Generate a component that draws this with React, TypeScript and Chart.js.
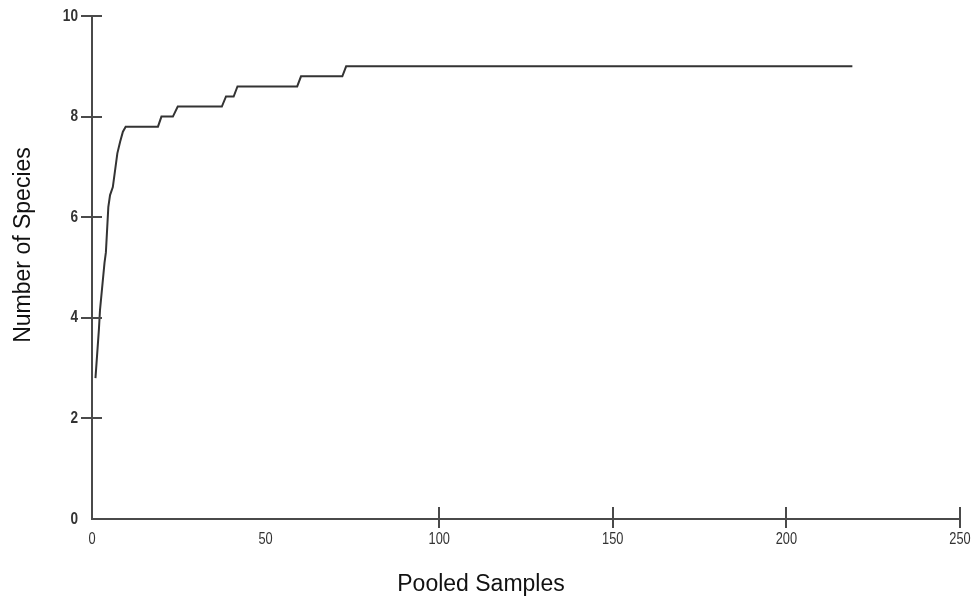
import React, { useEffect, useRef } from "react";
import { Chart, registerables } from "chart.js";

Chart.register(...registerables);

// Species accumulation curve breakpoints
const pooledSamples = [1, 2, 2.3, 3.6, 4, 4.7, 5.2, 6, 7.3, 8.1, 8.9, 9.7, 19, 20, 23.3, 24.7, 37.4, 38.6, 40.8, 41.9, 59.1, 60.2, 72.1, 73.2, 219];
const speciesCount = [2.8, 3.78, 4.15, 5.09, 5.3, 6.2, 6.44, 6.6, 7.27, 7.5, 7.7, 7.8, 7.8, 8.0, 8.0, 8.2, 8.2, 8.4, 8.4, 8.6, 8.6, 8.8, 8.8, 9.0, 9.0];

const xTickLabels = [0, 50, 100, 150, 200, 250];
const yTickLabels = [0, 2, 4, 6, 8, 10];
const xTickMarks = [100, 150, 200, 250];
const yTickMarks = [2, 4, 6, 8, 10];
const xTitle = "Pooled Samples";
const yTitle = "Number of Species";

const AXIS_COLOR = "#4a4a4a";
const LABEL_FONT = "'Liberation Sans', Arial, sans-serif";
const NARROW = 0.8;

const decorPlugin = {
  id: "decor",
  afterDraw(chart: any) {
    const { ctx, scales, chartArea } = chart;
    const xs = scales.x;
    const ys = scales.y;
    ctx.save();
    ctx.strokeStyle = AXIS_COLOR;
    ctx.lineWidth = 2;
    ctx.beginPath();
    for (const v of yTickMarks) {
      const py = Math.round(ys.getPixelForValue(v));
      ctx.moveTo(chartArea.left - 11, py);
      ctx.lineTo(chartArea.left + 10, py);
    }
    for (const v of xTickMarks) {
      const px = Math.round(xs.getPixelForValue(v));
      ctx.moveTo(px, chartArea.bottom - 12);
      ctx.lineTo(px, chartArea.bottom + 9);
    }
    ctx.stroke();

    // tick labels (narrow)
    ctx.fillStyle = "#333";
    ctx.textBaseline = "middle";
    ctx.font = "bold 17px " + LABEL_FONT;
    ctx.textAlign = "right";
    for (const v of yTickLabels) {
      const py = ys.getPixelForValue(v);
      ctx.save();
      ctx.translate(chartArea.left - 14, py);
      ctx.scale(NARROW, 1);
      ctx.fillText(String(v), 0, 0);
      ctx.restore();
    }
    ctx.font = "16px " + LABEL_FONT;
    ctx.textAlign = "center";
    for (const v of xTickLabels) {
      const px = xs.getPixelForValue(v);
      ctx.save();
      ctx.translate(px, chartArea.bottom + 21);
      ctx.scale(NARROW, 1);
      ctx.fillText(String(v), 0, 0);
      ctx.restore();
    }

    ctx.fillStyle = "#111";
    ctx.font = "23px " + LABEL_FONT;
    ctx.textAlign = "center";
    ctx.textBaseline = "alphabetic";
    ctx.fillText(xTitle, 481, 591);

    ctx.translate(30, 245);
    ctx.rotate(-Math.PI / 2);
    ctx.fillText(yTitle, 0, 0);
    ctx.restore();
  },
};

export default function App() {
  const ref = useRef<HTMLCanvasElement | null>(null);

  useEffect(() => {
    if (!ref.current) return;
    const chart = new Chart(ref.current, {
      type: "line",
      data: {
        datasets: [
          {
            data: pooledSamples.map((x, i) => ({ x, y: speciesCount[i] })),
            borderColor: "#333333",
            borderWidth: 2,
            pointRadius: 0,
            tension: 0,
            fill: false,
          },
        ],
      },
      options: {
        animation: false,
        responsive: false,
        devicePixelRatio: 1,
        layout: { padding: { left: 0, right: 14, top: 16, bottom: 0 } },
        plugins: { legend: { display: false }, tooltip: { enabled: false } },
        scales: {
          x: {
            type: "linear",
            min: 0,
            max: 250,
            grid: { display: false, drawTicks: false },
            border: { display: true, color: AXIS_COLOR, width: 2 },
            ticks: { display: false, stepSize: 50 },
            afterFit: (s: any) => {
              s.height = 82;
            },
          },
          y: {
            type: "linear",
            min: 0,
            max: 10,
            grid: { display: false, drawTicks: false },
            border: { display: true, color: AXIS_COLOR, width: 2 },
            ticks: { display: false, stepSize: 2 },
            afterFit: (s: any) => {
              s.width = 92;
            },
          },
        },
      },
      plugins: [decorPlugin],
    });
    return () => chart.destroy();
  }, []);

  return (
    <div style={{ position: "fixed", left: 0, top: 0, width: 974, height: 601, background: "#fff" }}>
      <canvas ref={ref} width={974} height={601} style={{ display: "block" }} />
    </div>
  );
}
